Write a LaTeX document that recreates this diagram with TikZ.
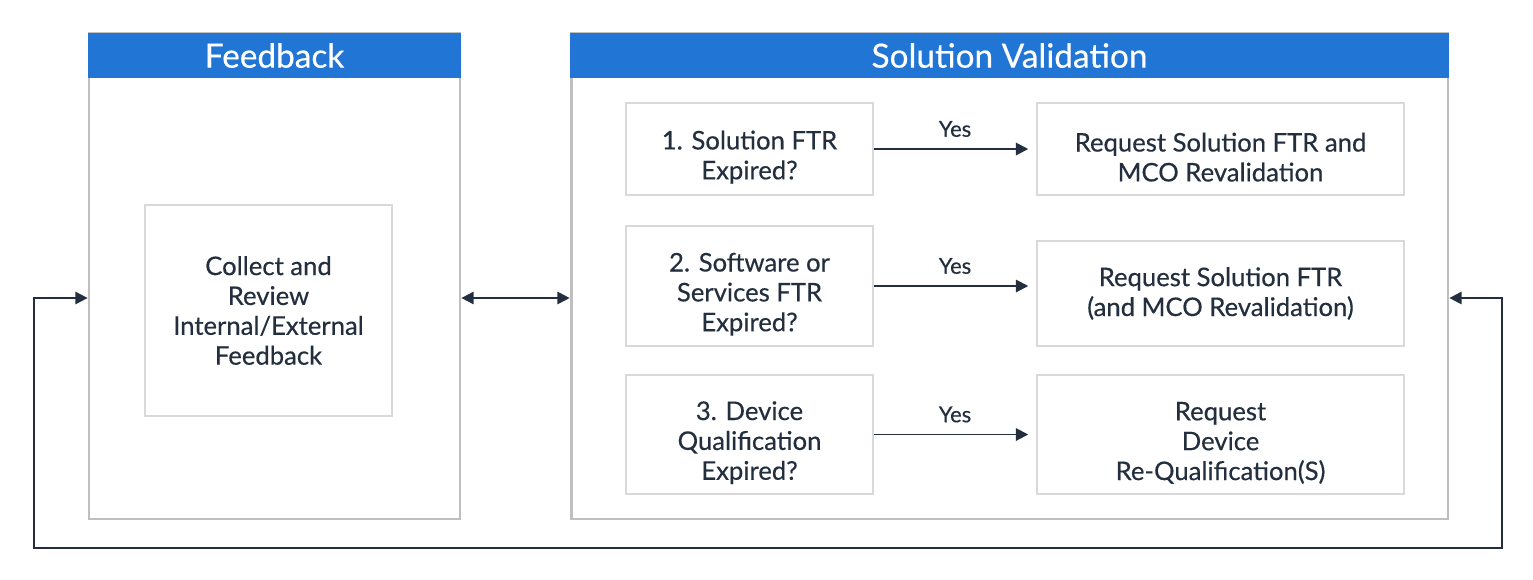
\documentclass[tikz,border=0pt]{standalone}
\usepackage{fontspec}
\setmainfont{Lato}[FakeBold=0.4]
\usepackage{xcolor}
\usetikzlibrary{arrows.meta,positioning}
\definecolor{awsblue}{HTML}{2175D5}
\definecolor{ink}{HTML}{232F3E}
\definecolor{panelgray}{HTML}{BFBFBF}
\definecolor{boxgray}{HTML}{D9D9D9}
\newcommand{\lowstrut}{\rule{0pt}{20pt}}

\begin{document}
\begin{tikzpicture}[x=0.02cm, y=-0.02cm,
        panel/.style={rectangle, draw=panelgray, line width=1.6pt, fill=white, inner sep=0pt},
        header/.style={rectangle, fill=awsblue, text=white, minimum height=0.9cm, inner sep=0pt, font=\fontsize{19}{22}\selectfont},
        box/.style={rectangle, draw=boxgray, line width=1pt, fill=white, align=center, text=ink, inner sep=0pt, font=\fontsize{14.6}{17}\selectfont},
        arrow/.style={-{Triangle[length=7pt,width=7pt]}, ink, line width=1.1pt},
        loop/.style={{Triangle[length=7pt,width=7pt]}-{Triangle[length=7pt,width=7pt]}, ink, line width=1.1pt},
        yes/.style={text=ink, font=\fontsize{12.5}{14}\selectfont}
    ]
        \useasboundingbox (0,0) rectangle (1533,579);

        % Panels
        \node[panel, minimum width=7.42cm, minimum height=9.72cm] (fb) at (274.5,276) {};
        \node[header, minimum width=7.46cm] (fbhead) at (274.5,55.5) {Feedback};

        \node[panel, minimum width=17.54cm, minimum height=9.72cm] (sv) at (1009.5,276) {};
        \node[header, minimum width=17.58cm] (svhead) at (1009.5,55.5) {Solution Validation};

        % Boxes
        \node[box, minimum width=4.94cm, minimum height=4.22cm] (collect) at (268.5,310.5) {Collect and\\Review\\Internal/External\\Feedback};

        \node[box, minimum width=4.94cm, minimum height=1.84cm] (q1) at (749.5,149) {\lowstrut 1. Solution FTR\\Expired?};
        \node[box, minimum width=4.94cm, minimum height=2.40cm] (q2) at (749.5,286) {\lowstrut 2. Software or\\Services FTR\\Expired?};
        \node[box, minimum width=4.94cm, minimum height=2.38cm] (q3) at (749.5,434.5) {\lowstrut 3. Device\\Qualification\\Expired?};

        \node[box, minimum width=7.34cm, minimum height=1.84cm] (r1) at (1220.5,149) {\lowstrut Request Solution FTR and\\MCO Revalidation};
        \node[box, minimum width=7.34cm, minimum height=2.10cm] (r2) at (1220.5,293.5) {Request Solution FTR\\(and MCO Revalidation)};
        \node[box, minimum width=7.34cm, minimum height=2.38cm] (r3) at (1220.5,434.5) {\lowstrut Request\\Device\\Re-Qualification(S)};

        % Arrows
        \draw[arrow, shorten >=9pt/2] (q1.east) -- (q1.east -| r1.west) node[yes, midway, above=3pt] {Yes};
        \draw[arrow, shorten >=9pt/2] (q2.east) -- (q2.east -| r2.west) node[yes, midway, above=3pt] {Yes};
        \draw[arrow, shorten >=9pt/2] (q3.east) -- (q3.east -| r3.west) node[yes, midway, above=3pt] {Yes};

        \coordinate (link) at (515,298);
        \draw[loop] (fb.east |- link) -- (sv.west |- link);

        \coordinate (backR) at (1502,298);
        \coordinate (backL) at (34,548);
        \draw[loop] (sv.east |- backR) -- (backR) |- (backL) |- (fb.west |- backR);
    \end{tikzpicture}
\end{document}
